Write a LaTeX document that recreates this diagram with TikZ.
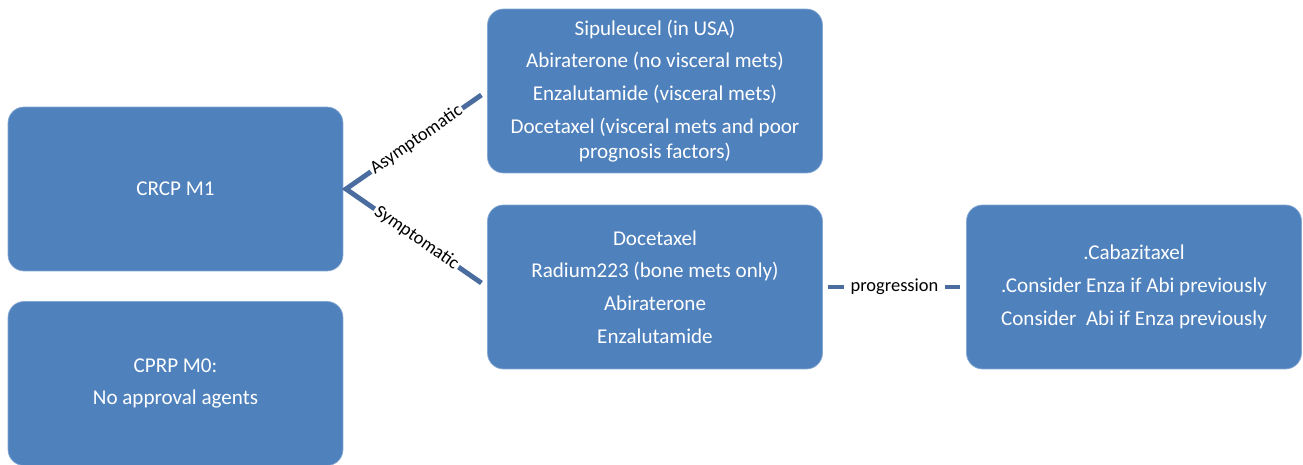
\documentclass[tikz,border=0pt]{standalone}
\usepackage{fontspec}
\setmainfont{Carlito}
\definecolor{boxblue}{HTML}{4F81BD}
\definecolor{linkblue}{HTML}{4A6C9E}
\begin{document}
\begin{tikzpicture}[x=0.02cm, y=-0.02cm,
    box/.style={rectangle, rounded corners=0.32cm, fill=boxblue, draw=boxblue!70!white, line width=0.4pt,
        minimum width=6.7cm, minimum height=3.28cm, text=white, align=center,
        font=\fontsize{12}{14.6}\selectfont},
    link/.style={draw=linkblue, line width=2.8pt},
    lab/.style={fill=white, inner sep=1pt, font=\fontsize{10.5}{12}\selectfont}]
    \useasboundingbox (0,0) rectangle (1303,465);

    \node[box] (m1) at (175.5,189) {CRCP M1};
    \node[box] (m0) at (175.5,383.5) {CPRP M0:\\[4pt] No approval agents};

    \node[box] (asym) at (655,91) {Sipuleucel (in USA)\\[4pt] Abiraterone (no visceral mets)\\[4pt]
        Enzalutamide (visceral mets)\\[4pt] Docetaxel (visceral mets and poor\\ prognosis factors)};
    \node[box] (sym) at (655,287) {Docetaxel\\[4pt] Radium223 (bone mets only)\\[4pt] Abiraterone\\[4pt] Enzalutamide};

    \node[box] (later) at (1134,287) {.Cabazitaxel\\[4pt] .Consider Enza if Abi previously\\[4pt] Consider\ \ Abi if Enza previously};

    \coordinate (fork) at (346,189);
    \draw[link, shorten <=0.14cm, shorten >=0.14cm] (asym.west) -- node[lab, sloped] {Asymptomatic} (fork)
        -- node[lab, sloped] {Symptomatic} (sym.west);
    \draw[link, shorten <=0.1cm, shorten >=0.12cm] (sym.east) -- node[lab, inner xsep=4pt] {progression} (later.west);
\end{tikzpicture}
\end{document}
